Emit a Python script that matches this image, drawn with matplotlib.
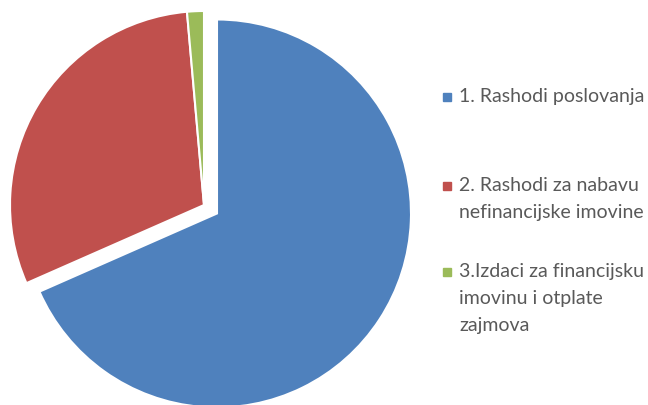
import matplotlib.pyplot as plt
from matplotlib.patches import Rectangle

labels = ['1. Rashodi poslovanja',
          '2. Rashodi za nabavu\nnefinancijske imovine',
          '3.Izdaci za financijsku\nimovinu i otplate\nzajmova']
values = [68.4, 30.2, 1.4]
colors = ['#4F81BD', '#C0504D', '#9BBB59']
explode = [0.08, 0, 0]

fig = plt.figure(figsize=(6.48, 4.05), dpi=100)
ax = fig.add_axes([10 / 648, 6 / 405, 388 / 648, 388 / 405])
ax.pie(values, colors=colors, explode=explode, startangle=90, counterclock=False,
       wedgeprops=dict(edgecolor='white', linewidth=1.5))
ax.set_xlim(-1, 1)
ax.set_ylim(-1, 1)
ax.set_aspect('equal')
ax.axis('off')

# legend, drawn by hand
ys = [97, 186, 272]
for lab, col, y in zip(labels, colors, ys):
    fig.patches.append(Rectangle((443 / 648, 1 - (y + 4) / 405), 8 / 648, 8 / 405,
                                 transform=fig.transFigure, color=col))
    fig.text(459 / 648, 1 - (y - 9) / 405, lab, fontsize=14, family='Lato',
             color='#595959', va='top', linespacing=1.72)

fig.savefig('out.png', dpi=100)
